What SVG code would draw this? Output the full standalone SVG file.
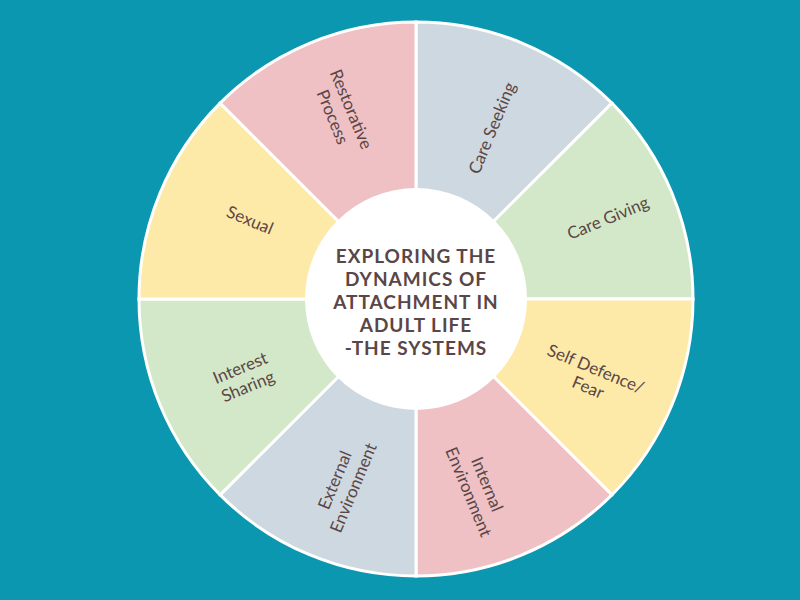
<svg xmlns="http://www.w3.org/2000/svg" width="800" height="600" viewBox="0 0 800 600">
<style>
.s{stroke:#fff;stroke-width:3}
.l{font-family:Lato,"Open Sans",sans-serif;font-size:17px;fill:#5a4646;text-anchor:middle}
.t{font-family:Lato,"Open Sans",sans-serif;font-size:19px;font-weight:bold;fill:#5a4646;text-anchor:middle;letter-spacing:1px}
</style>
<rect width="800" height="600" fill="#0b97b0"/>
<g id="care-seeking"><path class="s" d="M416,299 L416,22 A277,277 0 0 1 611.9,103.1 Z" fill="#cdd8e0"/><text class="l" transform="translate(492,128) rotate(-67.5)" dy="6">Care Seeking</text></g>
<g id="care-giving"><path class="s" d="M416,299 L611.9,103.1 A277,277 0 0 1 693,299 Z" fill="#d3e8c8"/><text class="l" transform="translate(608,218) rotate(-22.5)" dy="6">Care Giving</text></g>
<g id="self-defence"><path class="s" d="M416,299 L693,299 A277,277 0 0 1 611.9,494.9 Z" fill="#fde9a8"/><text class="l" transform="translate(592,378) rotate(22.5)"><tspan x="0" dy="-4">Self Defence/</tspan><tspan x="0" dy="20">Fear</tspan></text></g>
<g id="internal-environment"><path class="s" d="M416,299 L611.9,494.9 A277,277 0 0 1 416,576 Z" fill="#efc1c4"/><text class="l" transform="translate(478,488) rotate(67.5)"><tspan x="0" dy="-4">Internal</tspan><tspan x="0" dy="20">Environment</tspan></text></g>
<g id="external-environment"><path class="s" d="M416,299 L416,576 A277,277 0 0 1 220.1,494.9 Z" fill="#cdd8e0"/><text class="l" transform="translate(344,484) rotate(-67.5)"><tspan x="0" dy="-4">External</tspan><tspan x="0" dy="20">Environment</tspan></text></g>
<g id="interest-sharing"><path class="s" d="M416,299 L220.1,494.9 A277,277 0 0 1 139,299 Z" fill="#d3e8c8"/><text class="l" transform="translate(244,377) rotate(-22.5)"><tspan x="0" dy="-4">Interest</tspan><tspan x="0" dy="20">Sharing</tspan></text></g>
<g id="sexual"><path class="s" d="M416,299 L139,299 A277,277 0 0 1 220.1,103.1 Z" fill="#fde9a8"/><text class="l" transform="translate(250,220) rotate(22.5)" dy="6">Sexual</text></g>
<g id="restorative-process"><path class="s" d="M416,299 L220.1,103.1 A277,277 0 0 1 416,22 Z" fill="#efc1c4"/><text class="l" transform="translate(342,113) rotate(67.5)"><tspan x="0" dy="-4">Restorative</tspan><tspan x="0" dy="20">Process</tspan></text></g>
<g id="center"><circle cx="416" cy="299" r="111" fill="#fff"/>
<text class="t"><tspan x="416" y="263">EXPLORING THE</tspan><tspan x="416" y="286">DYNAMICS OF</tspan><tspan x="416" y="309">ATTACHMENT IN</tspan><tspan x="416" y="332">ADULT LIFE</tspan><tspan x="416" y="355">-THE SYSTEMS</tspan></text></g>
<g id="connectors"/>
</svg>
